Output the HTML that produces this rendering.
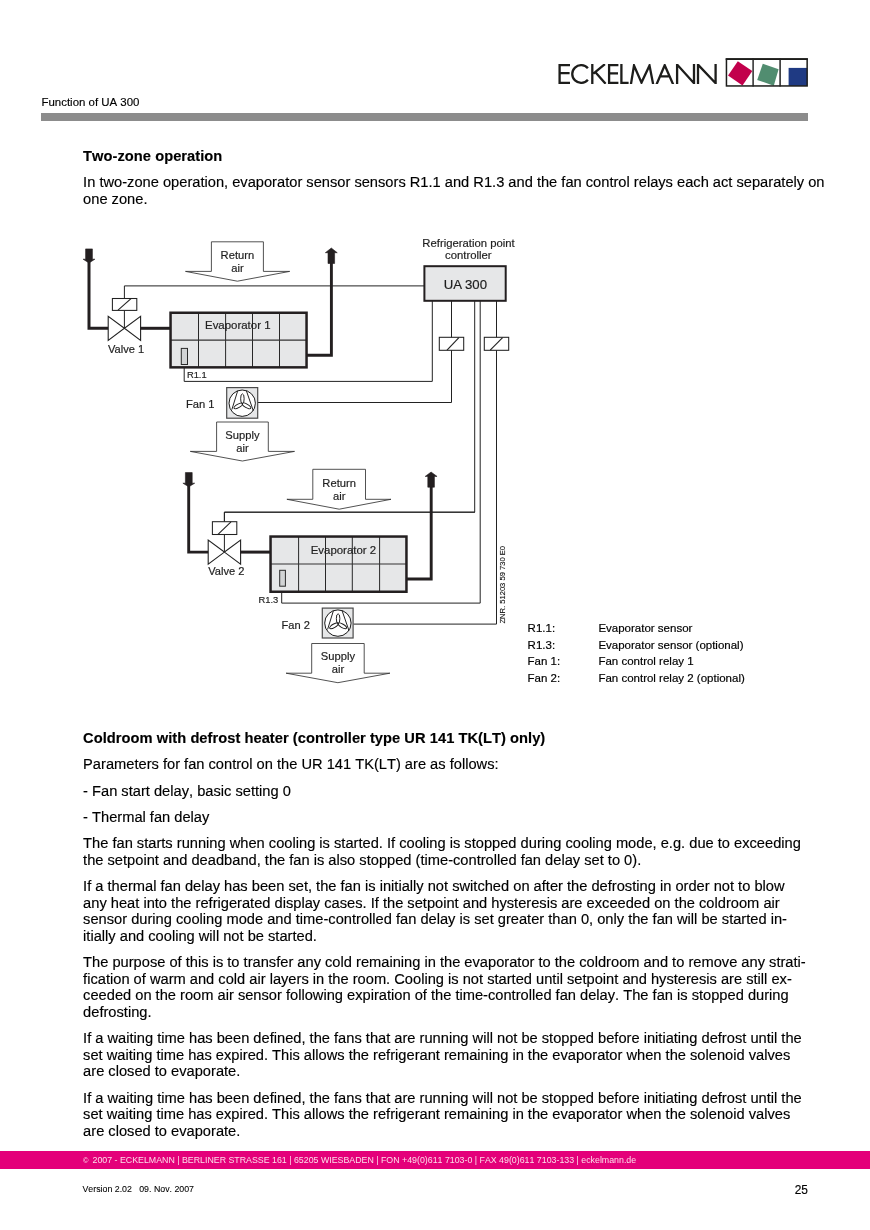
<!DOCTYPE html>
<html><head><meta charset="utf-8"><style>
html,body{margin:0;padding:0;background:#fff;}
body{width:870px;height:1230px;position:relative;overflow:hidden;font-family:"Liberation Sans",sans-serif;}
.t{position:absolute;white-space:nowrap;font-kerning:none;-webkit-text-stroke:0.15px currentColor;}
svg{position:absolute;left:0;top:0;}
</style></head><body><div id="pg" style="position:absolute;left:0;top:0;width:870px;height:1230px;will-change:transform;background:#fff">
<div class="t" style="left:41.5px;top:94.23px;font-size:11.45px;line-height:16px;color:#000;">Function of UA 300</div>
<div style="position:absolute;left:41.0px;top:113.0px;width:766.7px;height:7.7px;background:#8c8c8c"></div>
<div class="t" style="left:83.1px;top:148.32px;font-size:14.66px;line-height:16px;font-weight:bold;letter-spacing:0.045px;color:#000;">Two-zone operation</div>
<div class="t" style="left:83.1px;top:173.52px;font-size:14.66px;line-height:16px;color:#000;">In two-zone operation, evaporator sensor sensors R1.1 and R1.3 and the fan control relays each act separately on</div>
<div class="t" style="left:83.1px;top:191.12px;font-size:14.66px;line-height:16px;color:#000;">one zone.</div>
<div class="t" style="left:83.1px;top:730.12px;font-size:14.66px;line-height:16px;font-weight:bold;letter-spacing:0.045px;color:#000;">Coldroom with defrost heater (controller type UR 141 TK(LT) only)</div>
<div class="t" style="left:83.1px;top:755.52px;font-size:14.66px;line-height:16px;color:#000;">Parameters for fan control on the UR 141 TK(LT) are as follows:</div>
<div class="t" style="left:83.1px;top:782.92px;font-size:14.66px;line-height:16px;color:#000;">- Fan start delay, basic setting 0</div>
<div class="t" style="left:83.1px;top:809.42px;font-size:14.66px;line-height:16px;color:#000;">- Thermal fan delay</div>
<div class="t" style="left:83.1px;top:834.52px;font-size:14.66px;line-height:16px;color:#000;">The fan starts running when cooling is started. If cooling is stopped during cooling mode, e.g. due to exceeding</div>
<div class="t" style="left:83.1px;top:851.82px;font-size:14.66px;line-height:16px;color:#000;">the setpoint and deadband, the fan is also stopped (time-controlled fan delay set to 0).</div>
<div class="t" style="left:83.1px;top:877.62px;font-size:14.66px;line-height:16px;color:#000;">If a thermal fan delay has been set, the fan is initially not switched on after the defrosting in order not to blow</div>
<div class="t" style="left:83.1px;top:894.92px;font-size:14.66px;line-height:16px;color:#000;">any heat into the refrigerated display cases. If the setpoint and hysteresis are exceeded on the coldroom air</div>
<div class="t" style="left:83.1px;top:911.32px;font-size:14.66px;line-height:16px;color:#000;">sensor during cooling mode and time-controlled fan delay is set greater than 0, only the fan will be started in-</div>
<div class="t" style="left:83.1px;top:927.82px;font-size:14.66px;line-height:16px;color:#000;">itially and cooling will not be started.</div>
<div class="t" style="left:83.1px;top:954.22px;font-size:14.66px;line-height:16px;color:#000;">The purpose of this is to transfer any cold remaining in the evaporator to the coldroom and to remove any strati-</div>
<div class="t" style="left:83.1px;top:970.72px;font-size:14.66px;line-height:16px;color:#000;">fication of warm and cold air layers in the room. Cooling is not started until setpoint and hysteresis are still ex-</div>
<div class="t" style="left:83.1px;top:987.22px;font-size:14.66px;line-height:16px;color:#000;">ceeded on the room air sensor following expiration of the time-controlled fan delay. The fan is stopped during</div>
<div class="t" style="left:83.1px;top:1003.92px;font-size:14.66px;line-height:16px;color:#000;">defrosting.</div>
<div class="t" style="left:83.1px;top:1030.42px;font-size:14.66px;line-height:16px;color:#000;">If a waiting time has been defined, the fans that are running will not be stopped before initiating defrost until the</div>
<div class="t" style="left:83.1px;top:1046.92px;font-size:14.66px;line-height:16px;color:#000;">set waiting time has expired. This allows the refrigerant remaining in the evaporator when the solenoid valves</div>
<div class="t" style="left:83.1px;top:1063.42px;font-size:14.66px;line-height:16px;color:#000;">are closed to evaporate.</div>
<div class="t" style="left:83.1px;top:1089.82px;font-size:14.66px;line-height:16px;color:#000;">If a waiting time has been defined, the fans that are running will not be stopped before initiating defrost until the</div>
<div class="t" style="left:83.1px;top:1106.32px;font-size:14.66px;line-height:16px;color:#000;">set waiting time has expired. This allows the refrigerant remaining in the evaporator when the solenoid valves</div>
<div class="t" style="left:83.1px;top:1122.72px;font-size:14.66px;line-height:16px;color:#000;">are closed to evaporate.</div>
<div style="position:absolute;left:0;top:1151px;width:870px;height:18px;background:#e4007a"></div>
<div class="t" style="left:83.0px;top:1152.14px;font-size:8.82px;line-height:16px;color:#fcdcea;-webkit-text-stroke:0;"><span style="font-size:7.4px;vertical-align:0.5px;margin-right:1.6px">©</span>&nbsp;2007 - ECKELMANN | BERLINER STRASSE 161 | 65205 WIESBADEN | FON +49(0)611 7103-0 | FAX 49(0)611 7103-133 | eckelmann.de</div>
<div class="t" style="left:82.5px;top:1180.65px;font-size:8.8px;line-height:16px;color:#000;-webkit-text-stroke:0.08px currentColor;">Version 2.02&nbsp;&nbsp; 09. Nov. 2007</div>
<div class="t" style="left:794.7px;top:1181.78px;font-size:11.9px;line-height:16px;color:#000;">25</div>
<svg width="870" height="1230" viewBox="0 0 870 1230">
<g font-family="Liberation Sans, sans-serif">
<text x="468.5" y="247.2" font-size="11.3" text-anchor="middle" fill="#1e1e1e" stroke="#1e1e1e" stroke-width="0.18" >Refrigeration point</text>
<text x="468.3" y="259.2" font-size="11.3" text-anchor="middle" fill="#1e1e1e" stroke="#1e1e1e" stroke-width="0.18" >controller</text>
<polyline points="432.3,301 432.3,381.4 184.2,381.4 184.2,364" fill="none" stroke="#222" stroke-width="1.0" />
<polyline points="451.5,301 451.5,402.5 258,402.5" fill="none" stroke="#222" stroke-width="1.0" />
<polyline points="474.7,301 474.7,512.2 224.4,512.2 224.4,522" fill="none" stroke="#222" stroke-width="1.0" />
<polyline points="480.2,301 480.2,603.1 281.7,603.1 281.7,586" fill="none" stroke="#222" stroke-width="1.0" />
<polyline points="496.5,301 496.5,624.1 353.5,624.1" fill="none" stroke="#222" stroke-width="1.0" />
<rect x="439.3" y="337.3" width="24.40" height="13.00" fill="#fff" stroke="#222" stroke-width="1.05"/>
<line x1="447.0" y1="350.2" x2="458.90000000000003" y2="337.6" stroke="#222" stroke-width="1.15"/>
<rect x="484.3" y="337.3" width="24.40" height="13.00" fill="#fff" stroke="#222" stroke-width="1.05"/>
<line x1="490.2" y1="350.2" x2="502.6" y2="337.6" stroke="#222" stroke-width="1.15"/>
<rect x="424.4" y="266.2" width="81.3" height="34.6" fill="#e6e7e8" stroke="#231f20" stroke-width="2"/>
<text x="465.4" y="288.6" font-size="13.2" text-anchor="middle" fill="#1e1e1e" stroke="#1e1e1e" stroke-width="0.18" >UA 300</text>
<polyline points="89,261 89,328.3 109,328.3" fill="none" stroke="#231f20" stroke-width="3" stroke-linejoin="miter"/>
<path d="M85.60 248.9 H92.40 V259.2 L94.90 259.2 L89.00 262.9 L83.10 259.2 H85.60 Z" fill="#231f20" stroke="#231f20" stroke-width="0.6" stroke-linejoin="round"/>
<polyline points="124.4,298.5 124.4,285.9 424,285.9" fill="none" stroke="#222" stroke-width="1.0" />
<line x1="124.4" y1="310.4" x2="124.4" y2="328.3" stroke="#222" stroke-width="1.0"/>
<polygon points="108.2,316.25 108.2,340.35 124.4,328.3" fill="#fff" stroke="#222" stroke-width="1.1" />
<polygon points="140.6,316.25 140.6,340.35 124.4,328.3" fill="#fff" stroke="#222" stroke-width="1.1" />
<rect x="112.4" y="298.5" width="24.40" height="11.90" fill="#fff" stroke="#222" stroke-width="1.05"/>
<line x1="118.0" y1="310.2" x2="131.0" y2="298.7" stroke="#222" stroke-width="1.1"/>
<line x1="140" y1="328.3" x2="171" y2="328.3" stroke="#231f20" stroke-width="3"/>
<polygon points="211.4,241.8 263.4,241.8 263.4,271.4 289.7,271.4 237.4,281.2 185.5,271.4 211.4,271.4" fill="#fff" stroke="#333" stroke-width="0.85" />
<text x="237.39999999999998" y="258.8" font-size="11.2" text-anchor="middle" fill="#1e1e1e" stroke="#1e1e1e" stroke-width="0.18" >Return</text>
<text x="237.39999999999998" y="271.6" font-size="11.2" text-anchor="middle" fill="#1e1e1e" stroke="#1e1e1e" stroke-width="0.18" >air</text>
<rect x="170.55" y="312.75" width="136.00" height="54.60" fill="#e6e7e8" stroke="none"/>
<text x="205.0" y="329.1" font-size="11.45" text-anchor="start" fill="#222" stroke="#222" stroke-width="0.18" >Evaporator 1</text>
<line x1="198.5" y1="312.5" x2="198.5" y2="367.6" stroke="#1e1e1e" stroke-width="0.95"/>
<line x1="225.6" y1="312.5" x2="225.6" y2="367.6" stroke="#1e1e1e" stroke-width="0.95"/>
<line x1="252.5" y1="312.5" x2="252.5" y2="367.6" stroke="#1e1e1e" stroke-width="0.95"/>
<line x1="279.5" y1="312.5" x2="279.5" y2="367.6" stroke="#1e1e1e" stroke-width="0.95"/>
<line x1="170.3" y1="340.1" x2="306.8" y2="340.1" stroke="#333" stroke-width="1.1"/>
<rect x="170.55" y="312.75" width="136.00" height="54.60" fill="none" stroke="#231f20" stroke-width="2.5"/>
<rect x="181.3" y="348.4" width="6.20" height="16.10" fill="#d2d4d5" stroke="#2a2a2a" stroke-width="1.0"/>
<text x="186.9" y="378.0" font-size="9.4" text-anchor="start" fill="#1e1e1e" stroke="#1e1e1e" stroke-width="0.18" >R1.1</text>
<polyline points="306,355.2 331.4,355.2 331.4,262" fill="none" stroke="#231f20" stroke-width="2.9" />
<path d="M331.30 248.05 L337.24 252.7 H334.60 V263.5 H328.00 V252.7 H325.36 Z" fill="#231f20" stroke="#231f20" stroke-width="0.6" stroke-linejoin="round"/>
<rect x="226.7" y="387.6" width="31.00" height="30.60" fill="#e6e7e8" stroke="#4a4a4a" stroke-width="1.2"/>
<circle cx="242.2" cy="403.2" r="13.2" fill="#fff" stroke="#1a1a1a" stroke-width="1.0"/>
<g transform="translate(242.39999999999998,403.5)" fill="none" stroke="#1a1a1a" stroke-width="0.95">
<ellipse cx="0" cy="-4.75" rx="1.75" ry="4.9" transform="rotate(0)"/>
<ellipse cx="0" cy="-4.75" rx="1.75" ry="4.9" transform="rotate(120)"/>
<ellipse cx="0" cy="-4.75" rx="1.75" ry="4.9" transform="rotate(240)"/>
<line x1="-4.8" y1="-12.4" x2="-10.5" y2="6.0"/>
<line x1="4.0" y1="-12.7" x2="10.9" y2="7.3"/>
</g>
<text x="185.9" y="407.6" font-size="11.2" text-anchor="start" fill="#1e1e1e" stroke="#1e1e1e" stroke-width="0.18" >Fan 1</text>
<text x="108.0" y="352.8" font-size="11.1" text-anchor="start" fill="#1e1e1e" stroke="#1e1e1e" stroke-width="0.18" >Valve 1</text>
<polygon points="216.6,422 268.3,422 268.3,451.4 294.5,451.4 242.4,461 190.3,451.4 216.6,451.4" fill="#fff" stroke="#333" stroke-width="0.85" />
<text x="242.45" y="438.6" font-size="11.2" text-anchor="middle" fill="#1e1e1e" stroke="#1e1e1e" stroke-width="0.18" >Supply</text>
<text x="242.45" y="452.0" font-size="11.2" text-anchor="middle" fill="#1e1e1e" stroke="#1e1e1e" stroke-width="0.18" >air</text>
<polyline points="188.7,485 188.7,552.1 209,552.1" fill="none" stroke="#231f20" stroke-width="2.9" />
<path d="M185.40 472.55 H192.20 V483.2 L194.70 483.2 L188.80 486.8 L182.90 483.2 H185.40 Z" fill="#231f20" stroke="#231f20" stroke-width="0.6" stroke-linejoin="round"/>
<polyline points="224.4,521.7 224.4,512.2 475,512.2" fill="none" stroke="#222" stroke-width="1.0" />
<line x1="224.4" y1="534.5" x2="224.4" y2="552.1" stroke="#222" stroke-width="1.0"/>
<polygon points="208.20000000000002,540.0500000000001 208.20000000000002,564.15 224.4,552.1" fill="#fff" stroke="#222" stroke-width="1.1" />
<polygon points="240.6,540.0500000000001 240.6,564.15 224.4,552.1" fill="#fff" stroke="#222" stroke-width="1.1" />
<rect x="212.4" y="521.7" width="24.40" height="12.80" fill="#fff" stroke="#222" stroke-width="1.05"/>
<line x1="218.0" y1="534.3" x2="231.0" y2="521.9000000000001" stroke="#222" stroke-width="1.1"/>
<line x1="240" y1="552.1" x2="271" y2="552.1" stroke="#231f20" stroke-width="3"/>
<polygon points="312.8,469.3 365.5,469.3 365.5,499.3 391.0,499.3 339.2,509.2 286.9,499.3 312.8,499.3" fill="#fff" stroke="#333" stroke-width="0.85" />
<text x="339.15" y="486.8" font-size="11.2" text-anchor="middle" fill="#1e1e1e" stroke="#1e1e1e" stroke-width="0.18" >Return</text>
<text x="339.15" y="499.6" font-size="11.2" text-anchor="middle" fill="#1e1e1e" stroke="#1e1e1e" stroke-width="0.18" >air</text>
<rect x="270.55" y="536.55" width="135.90" height="55.20" fill="#e6e7e8" stroke="none"/>
<text x="310.7" y="553.9" font-size="11.45" text-anchor="start" fill="#222" stroke="#222" stroke-width="0.18" >Evaporator 2</text>
<line x1="298.6" y1="536.3" x2="298.6" y2="592.0" stroke="#1e1e1e" stroke-width="0.95"/>
<line x1="325.5" y1="536.3" x2="325.5" y2="592.0" stroke="#1e1e1e" stroke-width="0.95"/>
<line x1="352.3" y1="536.3" x2="352.3" y2="592.0" stroke="#1e1e1e" stroke-width="0.95"/>
<line x1="379.6" y1="536.3" x2="379.6" y2="592.0" stroke="#1e1e1e" stroke-width="0.95"/>
<line x1="270.3" y1="564.0" x2="406.7" y2="564.0" stroke="#333" stroke-width="1.1"/>
<rect x="270.55" y="536.55" width="135.90" height="55.20" fill="none" stroke="#231f20" stroke-width="2.5"/>
<rect x="279.7" y="570.3" width="5.70" height="15.90" fill="#d2d4d5" stroke="#2a2a2a" stroke-width="1.0"/>
<text x="278.3" y="602.8" font-size="9.4" text-anchor="end" fill="#1e1e1e" stroke="#1e1e1e" stroke-width="0.18" >R1.3</text>
<polyline points="406,579.0 431.2,579.0 431.2,486" fill="none" stroke="#231f20" stroke-width="2.9" />
<path d="M431.10 472.05 L437.04 476.4 H434.40 V487.2 H427.80 V476.4 H425.16 Z" fill="#231f20" stroke="#231f20" stroke-width="0.6" stroke-linejoin="round"/>
<rect x="322.3" y="608.1" width="30.80" height="29.90" fill="#e6e7e8" stroke="#4a4a4a" stroke-width="1.2"/>
<circle cx="337.9" cy="623.1" r="13.2" fill="#fff" stroke="#1a1a1a" stroke-width="1.0"/>
<g transform="translate(338.09999999999997,623.4)" fill="none" stroke="#1a1a1a" stroke-width="0.95">
<ellipse cx="0" cy="-4.75" rx="1.75" ry="4.9" transform="rotate(0)"/>
<ellipse cx="0" cy="-4.75" rx="1.75" ry="4.9" transform="rotate(120)"/>
<ellipse cx="0" cy="-4.75" rx="1.75" ry="4.9" transform="rotate(240)"/>
<line x1="-4.8" y1="-12.4" x2="-10.5" y2="6.0"/>
<line x1="4.0" y1="-12.7" x2="10.9" y2="7.3"/>
</g>
<text x="281.5" y="629.0" font-size="11.1" text-anchor="start" fill="#1e1e1e" stroke="#1e1e1e" stroke-width="0.18" >Fan 2</text>
<text x="208.2" y="574.9" font-size="11.1" text-anchor="start" fill="#1e1e1e" stroke="#1e1e1e" stroke-width="0.18" >Valve 2</text>
<polygon points="311.7,643.5 364.2,643.5 364.2,673.2 389.9,673.2 337.9,682.7 286.1,673.2 311.7,673.2" fill="#fff" stroke="#333" stroke-width="0.85" />
<text x="337.95" y="660.3" font-size="11.2" text-anchor="middle" fill="#1e1e1e" stroke="#1e1e1e" stroke-width="0.18" >Supply</text>
<text x="337.95" y="672.8" font-size="11.2" text-anchor="middle" fill="#1e1e1e" stroke="#1e1e1e" stroke-width="0.18" >air</text>
<text x="0" y="0" font-size="7.6" fill="#111" stroke="#111" stroke-width="0.12" transform="translate(505.2,623.6) rotate(-90)">ZNR. 51203 59 730 E0</text>
<text x="527.6" y="632.3" font-size="11.5" text-anchor="start" fill="#000" stroke="#000" stroke-width="0.18" >R1.1:</text>
<text x="598.4" y="632.3" font-size="11.5" text-anchor="start" fill="#000" stroke="#000" stroke-width="0.18" >Evaporator sensor</text>
<text x="527.6" y="648.9" font-size="11.5" text-anchor="start" fill="#000" stroke="#000" stroke-width="0.18" >R1.3:</text>
<text x="598.4" y="648.9" font-size="11.5" text-anchor="start" fill="#000" stroke="#000" stroke-width="0.18" >Evaporator sensor (optional)</text>
<text x="527.6" y="665.2" font-size="11.5" text-anchor="start" fill="#000" stroke="#000" stroke-width="0.18" >Fan 1:</text>
<text x="598.4" y="665.2" font-size="11.5" text-anchor="start" fill="#000" stroke="#000" stroke-width="0.18" >Fan control relay 1</text>
<text x="527.6" y="681.6" font-size="11.5" text-anchor="start" fill="#000" stroke="#000" stroke-width="0.18" >Fan 2:</text>
<text x="598.4" y="681.6" font-size="11.5" text-anchor="start" fill="#000" stroke="#000" stroke-width="0.18" >Fan control relay 2 (optional)</text>
</g>
<defs><clipPath id="lc"><rect x="550" y="63.9" width="170" height="20.1"/></clipPath></defs>
<g fill="none" stroke="#1d1d1b" stroke-width="2.3" stroke-linecap="butt" stroke-linejoin="miter" clip-path="url(#lc)">
<path d="M570 65 H559.6 V82.9 H570 M559.6 73.1 H569.6"/>
<path d="M587.88 68.31 A8.85 8.85 0 1 0 587.88 79.69"/>
<path d="M592.3 64 V83.9 M604.9 64.1 L593.4 73.6 M595.2 71.9 L605.6 83.8"/>
<path d="M618.4 65 H609.1 V82.9 H618.4 M609.1 73.3 H618"/>
<path d="M621.4 64 V82.9 H628.6"/>
<path d="M630.9 84.5 L634.0 65.5 L641.5 82.6 L649.5 65.5 L653.2 84.5" stroke-linejoin="miter" stroke-miterlimit="10"/>
<path d="M656.5 84.5 L664.7 65.2 L673.2 84.5 M659.5 76.4 H670" stroke-miterlimit="10"/>
<path d="M677.1 83.9 V64.6 L694 83.2 V64" stroke-miterlimit="10"/>
<path d="M698 83.9 V64.6 L715.6 83.2 V64" stroke-miterlimit="10"/>
</g>
<rect x="737.8" y="61.3" width="0" height="0" fill="none"/>
<polygon points="737.8,61.3 752.3,71.1 742.5,85.6 728,75.5" fill="#c2004c"/>
<polygon points="762.8,63.7 778.6,69.2 773.8,85.8 757.2,79.9" fill="#518d70"/>
<rect x="788.6" y="67.9" width="18.6" height="18" fill="#1f3a83"/>
<rect x="726.45" y="59.05" width="80.7" height="26.9" fill="none" stroke="#1d1d1b" stroke-width="1.5"/>
<line x1="725.7" y1="59.1" x2="807.9" y2="59.1" stroke="#1d1d1b" stroke-width="1.8"/>
<line x1="753.1" y1="58.5" x2="753.1" y2="86.4" stroke="#222" stroke-width="1.45"/>
<line x1="780.1" y1="58.5" x2="780.1" y2="86.4" stroke="#222" stroke-width="1.5"/>
</svg>
</div></body></html>
